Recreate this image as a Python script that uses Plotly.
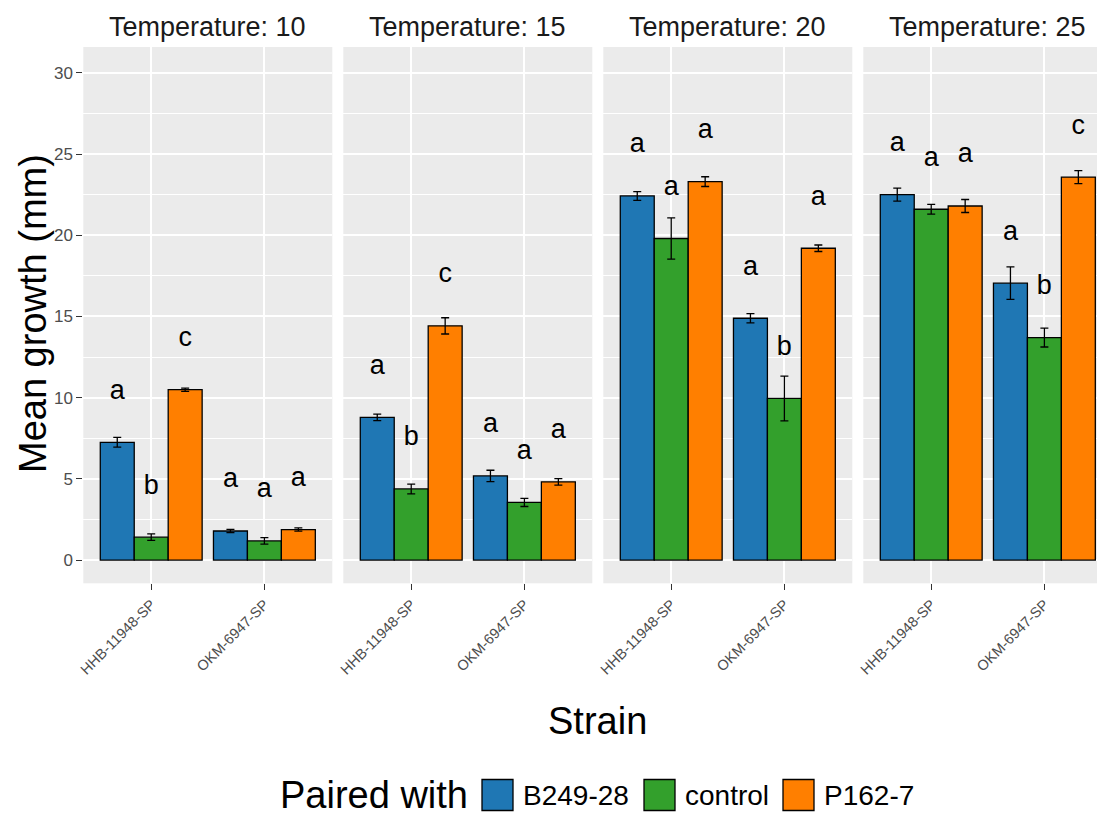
import plotly.graph_objects as go

# ---------------- data ----------------
temps = [10, 15, 20, 25]
strains = ["HHB-11948-SP", "OKM-6947-SP"]
partners = ["B249-28", "control", "P162-7"]

# mean growth per partner: list over temperatures of [HHB, OKM]
mean_b249 = [[7.25, 1.79], [8.78, 5.18], [22.42, 14.89], [22.5, 17.05]]
mean_ctrl = [[1.41, 1.18], [4.38, 3.55], [19.8, 9.95], [21.6, 13.7]]
mean_p162 = [[10.49, 1.88], [14.42, 4.82], [23.3, 19.2], [21.8, 23.58]]

se_b249 = [[0.3, 0.1], [0.2, 0.35], [0.27, 0.28], [0.4, 1.0]]
se_ctrl = [[0.2, 0.2], [0.3, 0.25], [1.27, 1.38], [0.3, 0.58]]
se_p162 = [[0.1, 0.1], [0.5, 0.2], [0.3, 0.2], [0.4, 0.4]]

let_b249 = [["a", "a"], ["a", "a"], ["a", "a"], ["a", "a"]]
let_ctrl = [["b", "a"], ["b", "a"], ["a", "b"], ["a", "b"]]
let_p162 = [["c", "a"], ["c", "a"], ["a", "a"], ["a", "c"]]

y_ticks = [0, 5, 10, 15, 20, 25, 30]

means = [mean_b249, mean_ctrl, mean_p162]
ses = [se_b249, se_ctrl, se_p162]
letters = [let_b249, let_ctrl, let_p162]
colors = ["#1F77B4", "#33A02C", "#FF7F00"]

# ---------------- layout geometry (pixels) ----------------
W, H = 1097, 813
FONT = "Liberation Sans, Arial, sans-serif"
panel_left, panel_w, panel_gap = 83.3, 249.0, 11.0
panel_top, panel_bottom = 47.0, 583.3
x_range_full = [-0.6, 1.6]
dodge = 0.3
letter_offset = 3.1


def px(x):
    return x / W


def py(y):
    return 1 - y / H


fig = go.Figure()

for ti, temp in enumerate(temps):
    sfx = "" if ti == 0 else str(ti + 1)
    for pi, partner in enumerate(partners):
        xs = [si + (pi - 1) * dodge for si in range(len(strains))]
        fig.add_trace(go.Bar(
            x=xs, y=means[pi][ti], width=dodge,
            marker=dict(color=colors[pi], line=dict(color="black", width=1.3)),
            error_y=dict(type="data", array=ses[pi][ti], color="black",
                         thickness=1.3, width=4),
            xaxis="x" + sfx, yaxis="y" + sfx, showlegend=False,
            name=partner, hoverinfo="skip"))
        fig.add_trace(go.Scatter(
            x=xs, y=[m + letter_offset for m in means[pi][ti]],
            mode="text", text=letters[pi][ti],
            textfont=dict(size=27, color="black", family=FONT),
            textposition="middle center", cliponaxis=False,
            xaxis="x" + sfx, yaxis="y" + sfx, showlegend=False,
            hoverinfo="skip"))

layout = dict(
    template="none",
    width=W, height=H, autosize=False,
    margin=dict(l=0, r=0, t=0, b=0, pad=0),
    paper_bgcolor="white", plot_bgcolor="#EBEBEB",
    barmode="overlay",
    font=dict(family=FONT, color="black"),
    showlegend=False,
)

annotations = []
for ti, temp in enumerate(temps):
    sfx = "" if ti == 0 else str(ti + 1)
    x0 = panel_left + ti * (panel_w + panel_gap)
    x1 = x0 + panel_w
    rng = list(x_range_full)
    if x1 > W:
        rng[1] = x_range_full[0] + (x_range_full[1] - x_range_full[0]) * (W - x0) / panel_w
        x1c = W
    else:
        x1c = x1
    layout["xaxis" + sfx] = dict(
        domain=[px(x0), px(x1c)], range=rng, anchor="y" + sfx, automargin=False,
        tickmode="array", tickvals=list(range(len(strains))), ticktext=strains,
        tickangle=-45, tickfont=dict(size=14.5, color="#4D4D4D", family=FONT),
        ticks="outside", ticklen=6, tickwidth=1.2, tickcolor="#333333",
        showgrid=True, gridcolor="white", gridwidth=1.6,
        zeroline=False, showline=False, fixedrange=True)
    layout["yaxis" + sfx] = dict(
        domain=[py(panel_bottom), py(panel_top)], range=[-1.43, 31.59],
        anchor="x" + sfx, automargin=False, tickmode="array", tickvals=y_ticks,
        showticklabels=(ti == 0),
        ticks="outside" if ti == 0 else "", ticklen=6, tickwidth=1.2,
        tickcolor="#333333",
        tickfont=dict(size=17, color="#4D4D4D", family=FONT),
        showgrid=True, gridcolor="white", gridwidth=1.6,
        minor=dict(tickmode="array", tickvals=[2.5, 7.5, 12.5, 17.5, 22.5, 27.5],
                   showgrid=True, gridcolor="white", gridwidth=0.8, ticks=""),
        zeroline=False, showline=False, fixedrange=True,
        **({} if ti == 0 else {"matches": "y"}))
    annotations.append(dict(
        text=f"Temperature: {temp}", x=px((x0 + x1) / 2), y=py(27),
        xref="paper", yref="paper", xanchor="center", yanchor="middle",
        showarrow=False, font=dict(size=27, color="#1A1A1A", family=FONT)))

# axis titles
annotations.append(dict(text="Mean growth (mm)", x=px(33), y=py(314), textangle=-90,
                        xref="paper", yref="paper", xanchor="center", yanchor="middle",
                        showarrow=False, font=dict(size=38, color="black", family=FONT)))
annotations.append(dict(text="Strain", x=px(597), y=py(721),
                        xref="paper", yref="paper", xanchor="center", yanchor="middle",
                        showarrow=False, font=dict(size=38, color="black", family=FONT)))

# legend (drawn manually for large keys)
leg_y = 795
annotations.append(dict(text="Paired with", x=px(278), y=py(leg_y),
                        xref="paper", yref="paper", xanchor="left", yanchor="middle",
                        showarrow=False, font=dict(size=38, color="black", family=FONT)))
shapes = []
key_x = [482, 644, 783]
for pi, partner in enumerate(partners):
    kx = key_x[pi]
    shapes.append(dict(type="rect", xref="paper", yref="paper",
                       x0=px(kx), x1=px(kx + 31), y0=py(leg_y + 15.5), y1=py(leg_y - 15.5),
                       fillcolor=colors[pi], line=dict(color="black", width=1.3)))
    annotations.append(dict(text=partner, x=px(kx + 39), y=py(leg_y),
                            xref="paper", yref="paper", xanchor="left", yanchor="middle",
                            showarrow=False, font=dict(size=28, color="black", family=FONT)))

layout["annotations"] = annotations
layout["shapes"] = shapes
fig.update_layout(**layout)

fig.write_html("out.html")
